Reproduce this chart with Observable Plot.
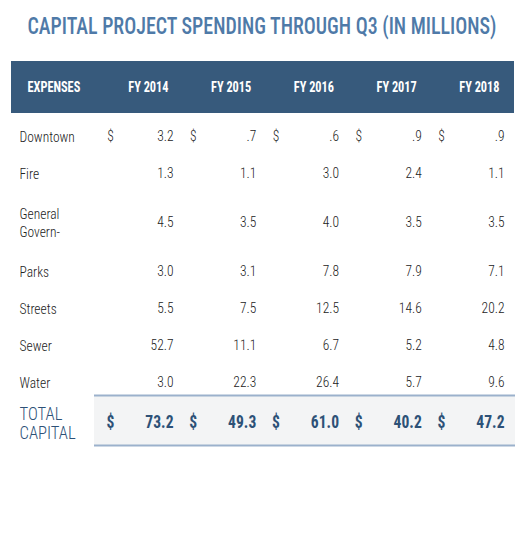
<!DOCTYPE html>
<html><head><meta charset="utf-8">
<script src="https://cdn.jsdelivr.net/npm/d3@7"></script>
<script src="https://cdn.jsdelivr.net/npm/@observablehq/plot@0.6"></script>
<style>
body{margin:0;background:#fff;}
#wrap{position:relative;width:525px;height:560px;overflow:hidden;}
#title{position:absolute;top:12px;left:262px;white-space:nowrap;font-family:"Roboto Condensed","Liberation Sans Narrow","DejaVu Sans Condensed",sans-serif;font-size:24px;font-weight:500;color:#4f7aa8;line-height:28px;transform-origin:0 50%;}
#chart{position:absolute;top:0;left:0;}
</style></head><body>
<div id="wrap"><div id="chart"></div><div id="title">CAPITAL PROJECT SPENDING THROUGH Q3 (IN MILLIONS)</div></div>
<script>
// ---- data ----
const categories = ["Downtown", "Fire", "General\nGovern-", "Parks", "Streets", "Sewer", "Water"];
const years = ["FY 2014", "FY 2015", "FY 2016", "FY 2017", "FY 2018"];
const fy2014 = [3.2, 1.3, 4.5, 3.0, 5.5, 52.7, 3.0];
const fy2015 = [0.7, 1.1, 3.5, 3.1, 7.5, 11.1, 22.3];
const fy2016 = [0.6, 3.0, 4.0, 7.8, 12.5, 6.7, 26.4];
const fy2017 = [0.9, 2.4, 3.5, 7.9, 14.6, 5.2, 5.7];
const fy2018 = [0.9, 1.1, 3.5, 7.1, 20.2, 4.8, 9.6];
const totals = [73.2, 49.3, 61.0, 40.2, 47.2];
const headerLabel = "EXPENSES";
const totalLabel = "TOTAL\nCAPITAL";
const currency = "$";

// ---- layout ----
const W = 525, H = 560;
const tableLeft = 11, tableRight = 514, bandLeft = 94, bandRight = 515;
const headerTop = 61, headerH = 52;
const bodyTop = 117, rowH = 37, extraLine = 24;
const totalTop = 395, totalH = 50;
const labelX = 19, headerLabelX = 27;
const firstRight = 173, colStep = 82.75, dollarOffset = 63, headerOffset = 5;
const titleWidth = 469, narrowBold = 0.82, narrowBody = 0.9, narrowTotalLabel = 0.95;

const series = [fy2014, fy2015, fy2016, fy2017, fy2018];
const colRight = years.map((_, i) => firstRight + i * colStep);

let rowTop = bodyTop;
const rows = categories.map((c, r) => {
  const h = rowH + (c.split("\n").length - 1) * extraLine;
  const row = {label: c, y: rowTop + h / 2, r};
  rowTop += h;
  return row;
});

const fmt = v => { const s = d3.format(".1f")(v); return s.startsWith("0.") ? s.slice(1) : s; };

const cells = [];
rows.forEach(row => years.forEach((yr, i) => cells.push({x: colRight[i], y: row.y, text: fmt(series[i][row.r])})));
const dollars = years.map((_, i) => ({x: colRight[i] - dollarOffset, y: rows[0].y}));
const totalY = totalTop + totalH / 2 + 1;
const totalCells = totals.map((v, i) => ({x: colRight[i], y: totalY, text: fmt(v)}));
const totalDollars = years.map((_, i) => ({x: colRight[i] - dollarOffset, y: totalY}));
const headers = [{x: headerLabelX, y: headerTop + headerH / 2, text: headerLabel, anchor: "start"}]
  .concat(years.map((yr, i) => ({x: colRight[i] - headerOffset, y: headerTop + headerH / 2, text: yr, anchor: "end"})));

const font = '"Roboto Condensed","Liberation Sans Narrow","DejaVu Sans Condensed",sans-serif';
const bodyColor = "#222", totalColor = "#2d5177";

const plot = Plot.plot({
  width: W, height: H, margin: 0,
  x: {domain: [0, W], range: [0, W], axis: null},
  y: {domain: [0, H], range: [0, H], axis: null},
  marks: [
    Plot.rect([0], {x1: tableLeft, x2: tableRight, y1: headerTop, y2: headerTop + headerH, fill: "#375a7c"}),
    Plot.rect([0], {x1: bandLeft, x2: bandRight, y1: totalTop, y2: totalTop + totalH, fill: "#f3f4f5"}),
    Plot.ruleY([totalTop, totalTop + totalH], {x1: bandLeft, x2: bandRight, stroke: "#9bb1cc", strokeWidth: 2}),
    // text marks 0,1: header
    Plot.text(headers.filter(d => d.anchor === "start"), {x: "x", y: "y", text: "text", textAnchor: "start", fill: "white", fontWeight: "bold", fontSize: 15, fontFamily: font}),
    Plot.text(headers.filter(d => d.anchor === "end"), {x: "x", y: "y", text: "text", textAnchor: "end", fill: "white", fontWeight: "bold", fontSize: 15, fontFamily: font}),
    // text marks 2,3,4: body
    Plot.text(rows, {x: labelX, y: "y", text: "label", textAnchor: "start", lineAnchor: "middle", lineHeight: 1.2, fill: bodyColor, fontWeight: 300, fontSize: 15, fontFamily: font}),
    Plot.text(cells, {x: "x", y: "y", text: "text", textAnchor: "end", fill: bodyColor, fontWeight: 300, fontSize: 15, fontFamily: font}),
    Plot.text(dollars, {x: "x", y: "y", text: () => currency, fill: bodyColor, fontWeight: 300, fontSize: 15, fontFamily: font}),
    // text mark 5: total label
    Plot.text([totalLabel], {x: labelX, y: totalY + 2, text: d => d, textAnchor: "start", lineAnchor: "middle", lineHeight: 1.05, fill: totalColor, fontWeight: 300, fontSize: 17.5, fontFamily: font}),
    // text marks 6,7: totals
    Plot.text(totalCells, {x: "x", y: "y", text: "text", textAnchor: "end", fill: totalColor, fontWeight: "bold", fontSize: 19, fontFamily: font}),
    Plot.text(totalDollars, {x: "x", y: "y", text: () => currency, fill: totalColor, fontWeight: "bold", fontSize: 19, fontFamily: font})
  ]
});
document.getElementById("chart").appendChild(plot);

// condense text horizontally (reference uses narrower faces)
function narrow(el, f) {
  const w = el.getComputedTextLength();
  if (w > 0) { el.setAttribute("textLength", (w * f).toFixed(2)); el.setAttribute("lengthAdjust", "spacingAndGlyphs"); }
}
const textGroups = plot.querySelectorAll('g[aria-label="text"]');
const factors = {0: narrowBold, 1: narrowBold, 2: narrowBody, 3: narrowBody, 4: narrowBody, 5: narrowTotalLabel, 6: narrowBold, 7: narrowBold};
Object.entries(factors).forEach(([k, f]) => {
  const g = textGroups[k];
  if (!g) return;
  g.querySelectorAll("text").forEach(t => {
    const spans = t.querySelectorAll("tspan");
    if (spans.length) spans.forEach(s => narrow(s, f)); else narrow(t, f);
  });
});

const title = document.getElementById("title");
const tw = title.getBoundingClientRect().width;
if (tw > 0) title.style.transform = `translateX(${-titleWidth / 2}px) scaleX(${titleWidth / tw})`;
</script>
</body></html>
